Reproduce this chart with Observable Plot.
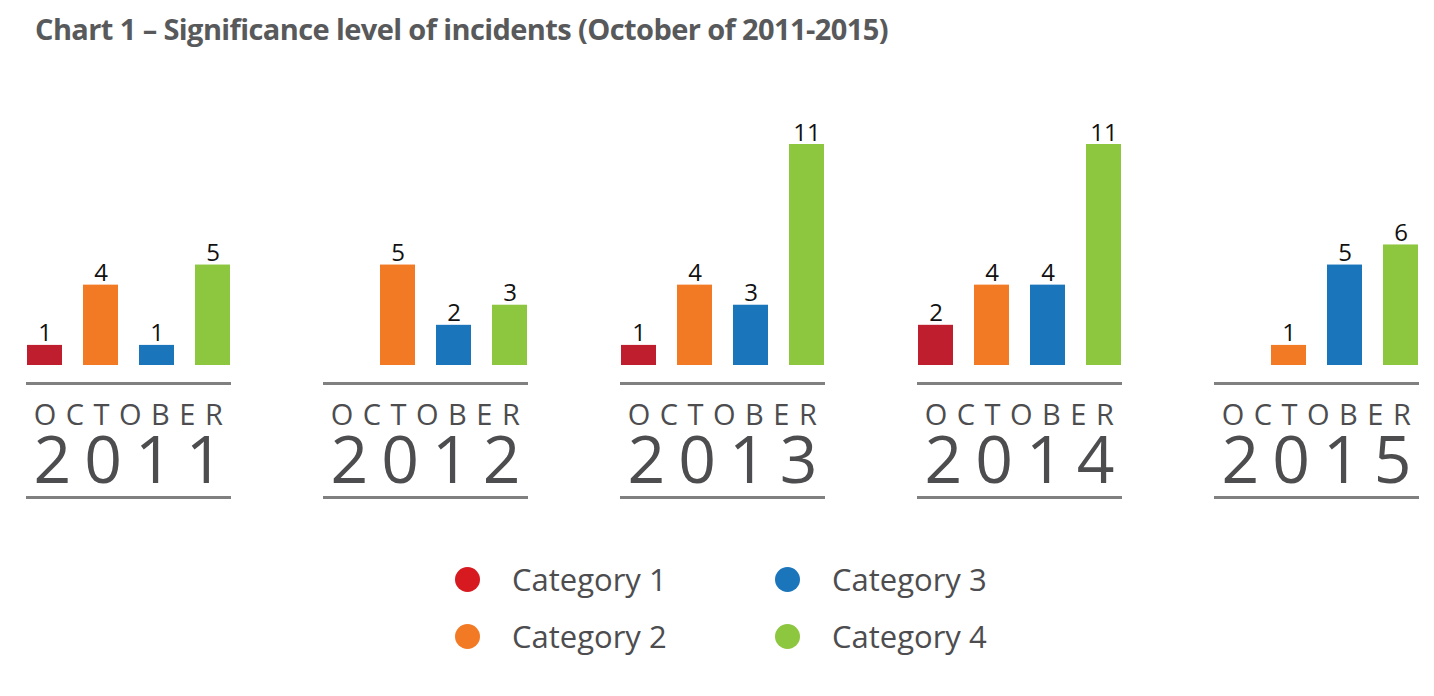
<!DOCTYPE html>
<html>
<head>
<meta charset="utf-8">
<script src="https://cdn.jsdelivr.net/npm/d3@7"></script>
<script src="https://cdn.jsdelivr.net/npm/@observablehq/plot@0.6"></script>
<style>
  html, body { margin: 0; padding: 0; background: #fff; }
  body { width: 1434px; height: 696px; position: relative; font-family: "Open Sans", sans-serif; }
  #title { position: absolute; left: 35px; top: 9px; font-size: 29px; font-weight: 700; color: #58595b; letter-spacing: -0.6px; white-space: nowrap; }
  #chart { position: absolute; left: 0; top: 60px; }
  #legend { position: absolute; left: 0; top: 0; }
  .lg-item { position: absolute; display: flex; align-items: center; font-size: 31px; color: #4d4d4f; white-space: nowrap; }
  .lg-dot { width: 25px; height: 25px; border-radius: 50%; margin-right: 32px; }
</style>
</head>
<body>
<div id="title">Chart 1 – Significance level of incidents (October of 2011-2015)</div>
<div id="chart"></div>
<div id="legend"></div>
<script>
const years = ["2011", "2012", "2013", "2014", "2015"];
const categories = ["Category 1", "Category 2", "Category 3", "Category 4"];
const colors = ["#be1e2d", "#f27a25", "#1b75bb", "#8dc63f"];
const cat1 = [1, null, 1, 2, null];
const cat2 = [4, 5, 4, 4, 1];
const cat3 = [1, 2, 3, 4, 5];
const cat4 = [5, 3, 11, 11, 6];
const monthLabel = "OCTOBER";

const series = [cat1, cat2, cat3, cat4];
const rows = [];
years.forEach((yr, i) => {
  series.forEach((s, c) => {
    if (s[i] != null) rows.push({year: yr, category: categories[c], value: s[i]});
  });
});

const plot = Plot.plot({
  width: 1434,
  height: 500,
  marginLeft: 26,
  marginRight: 15,
  marginTop: 84,
  marginBottom: 195,
  style: {fontFamily: "Open Sans", background: "transparent"},
  fx: {domain: years, paddingInner: 0.31, paddingOuter: 0, axis: null},
  x: {domain: categories, paddingInner: 0.375, paddingOuter: 0, axis: null},
  y: {domain: [0, 11], axis: null},
  color: {domain: categories, range: colors},
  marks: [
    Plot.barY(rows, {fx: "year", x: "category", y: "value", fill: "category"}),
    Plot.text(rows, {fx: "year", x: "category", y: "value", text: d => String(d.value),
      lineAnchor: "bottom", dy: -4, fontSize: 24, fill: "#111"}),
    Plot.ruleY([0], {dy: 18, stroke: "#808080", strokeWidth: 3}),
    Plot.ruleY([0], {dy: 132, stroke: "#808080", strokeWidth: 3}),
    Plot.text(years, {fx: d => d, y: () => 0, text: () => monthLabel, lineAnchor: "bottom",
      dy: 59, dx: 4, fontSize: 29, fill: "#4d4d4f"}),
    Plot.text(years, {fx: d => d, y: () => 0, text: d => d, lineAnchor: "bottom",
      dy: 117, dx: 6, fontSize: 66, fill: "#4d4d4f"})
  ]
});
d3.select(plot).selectAll("text")
  .filter(function() { return this.textContent === monthLabel; })
  .style("letter-spacing", "9.5px");
d3.select(plot).selectAll("text")
  .filter(function() { return years.includes(this.textContent); })
  .style("letter-spacing", "13px");
document.getElementById("chart").appendChild(plot);

// legend
const legendPos = [[455, 579], [455, 636], [775, 579], [775, 636]];
const lg = document.getElementById("legend");
categories.forEach((c, i) => {
  const item = document.createElement("div");
  item.className = "lg-item";
  item.style.left = legendPos[i][0] + "px";
  item.style.top = (legendPos[i][1] - 20) + "px";
  item.style.height = "40px";
  const dot = document.createElement("span");
  dot.className = "lg-dot";
  dot.style.background = i === 0 ? "#d71920" : colors[i];
  const t = document.createElement("span");
  t.textContent = c;
  item.appendChild(dot);
  item.appendChild(t);
  lg.appendChild(item);
});
</script>
</body>
</html>
